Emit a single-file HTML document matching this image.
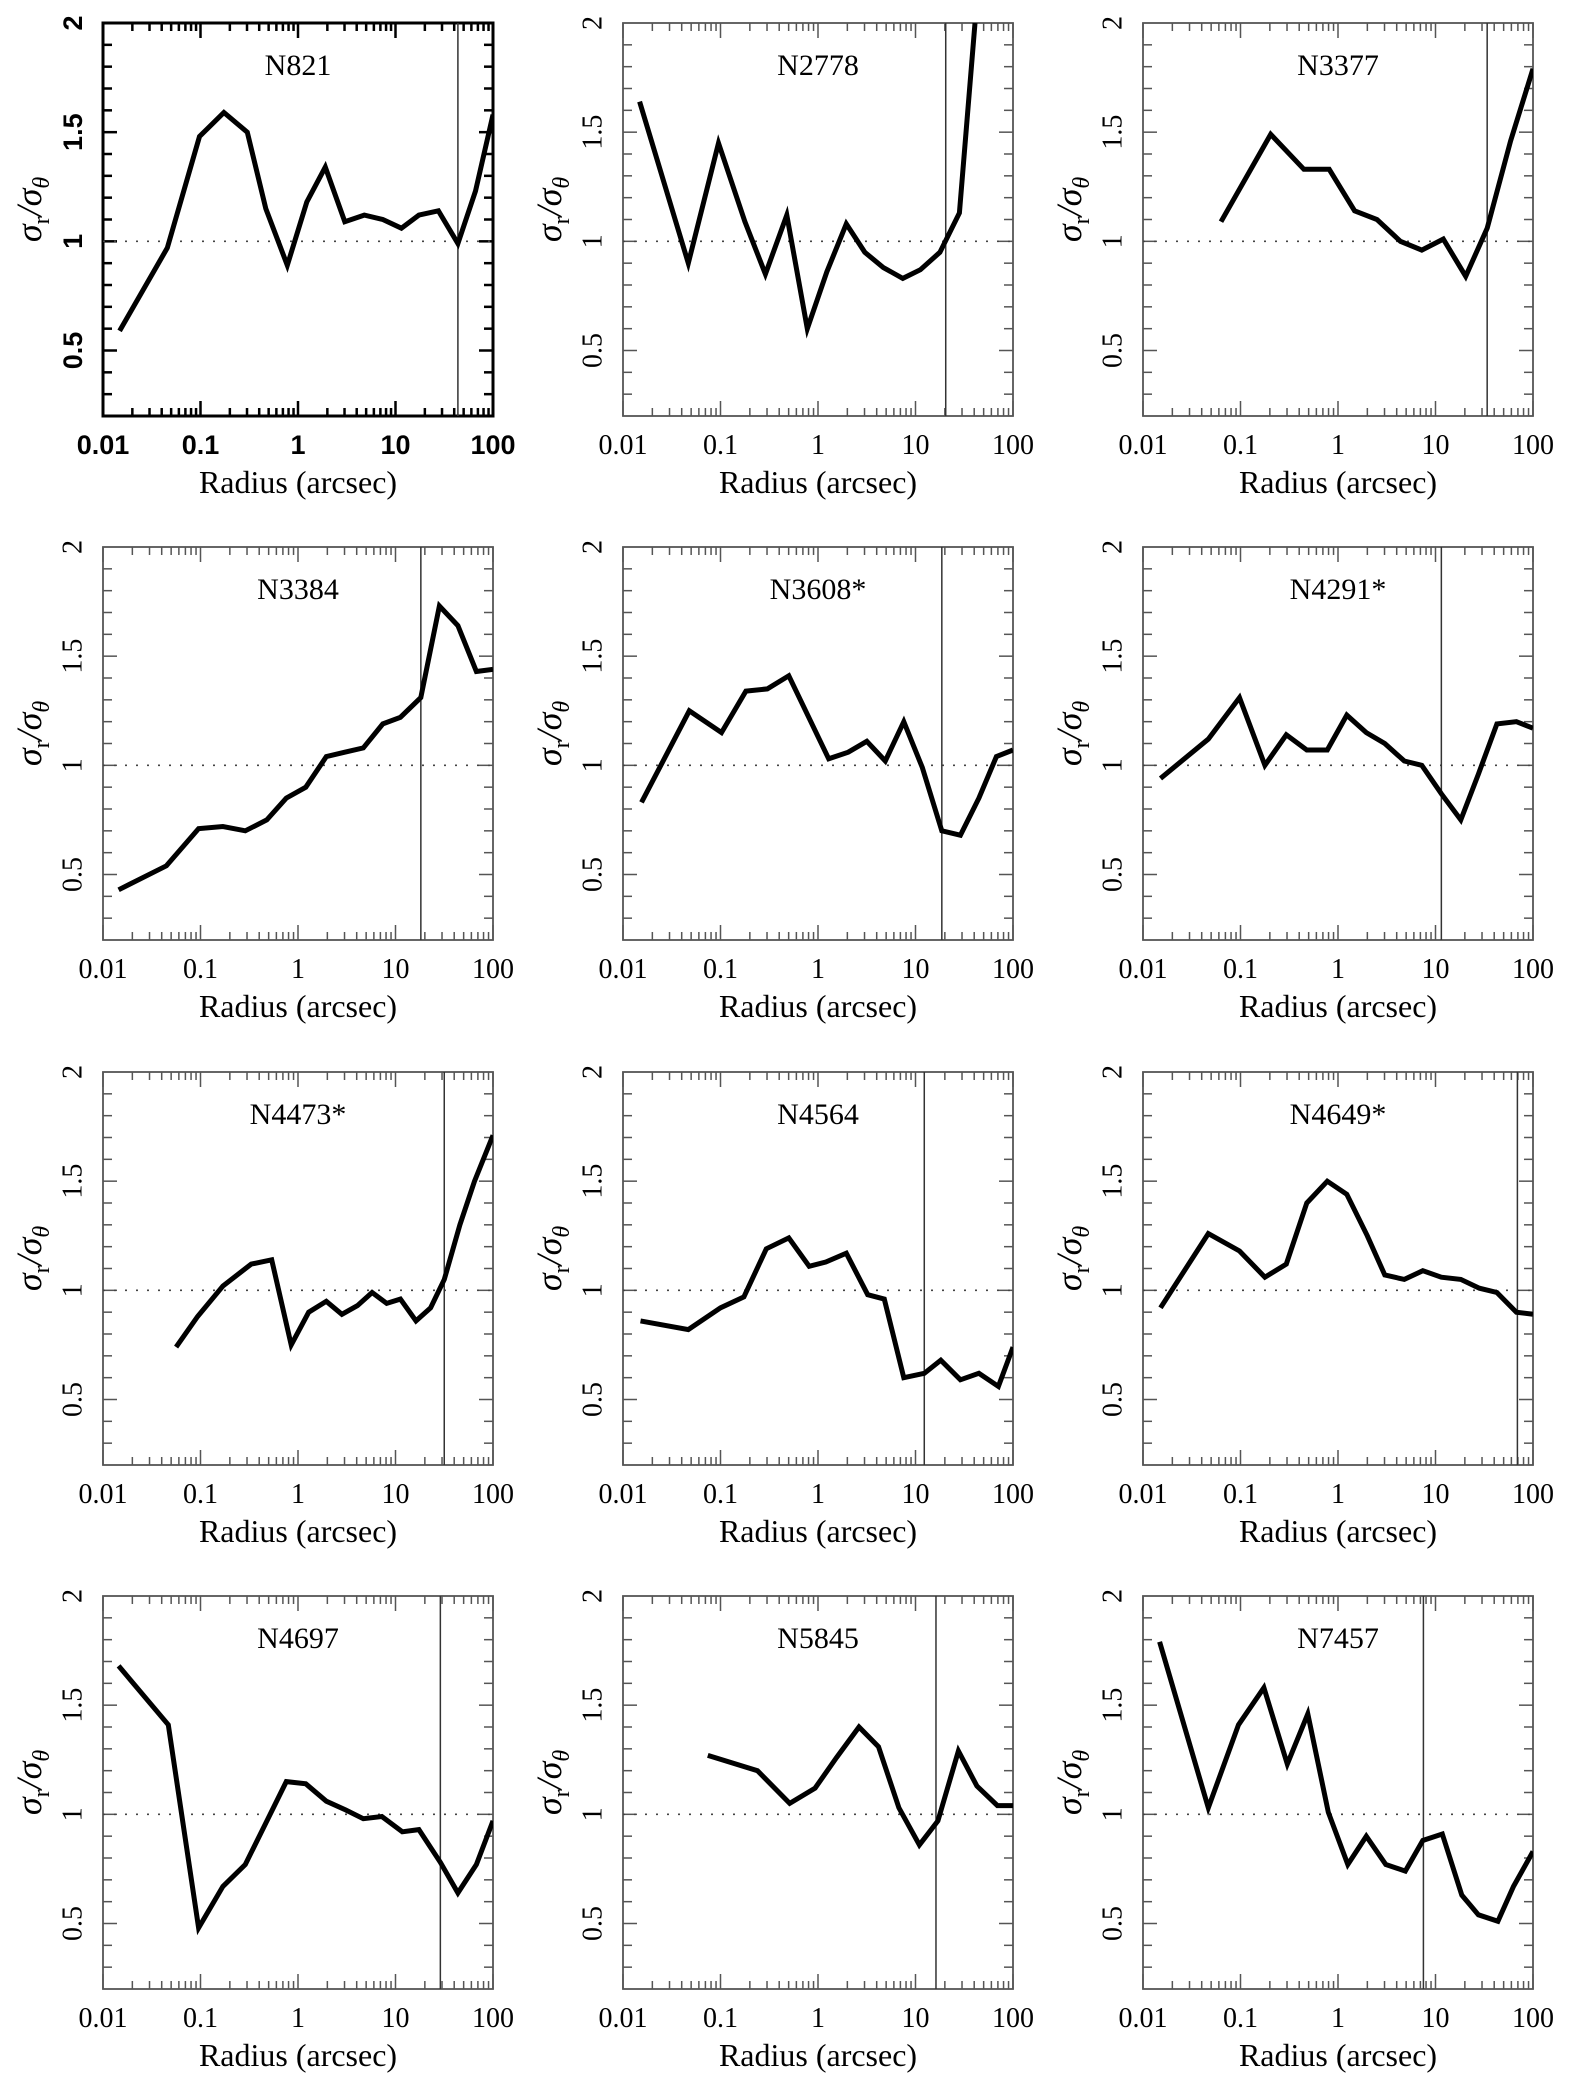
<!DOCTYPE html>
<html><head><meta charset="utf-8">
<style>
html,body{margin:0;padding:0;background:#fff;}
svg{display:block;}
</style></head>
<body>
<svg id="fig" width="1570" height="2081" viewBox="0 0 1570 2081" xmlns="http://www.w3.org/2000/svg"></svg>
<script>
const names = ["N821","N2778","N3377","N3384","N3608*","N4291*","N4473*","N4564","N4649*","N4697","N5845","N7457"];
const vlines = [1.64,1.31,1.53,1.26,1.27,1.06,1.50,1.09,1.84,1.46,1.21,0.876];
const xTicks = [-2,-1,0,1,2];
const xTickLabels = ["0.01","0.1","1","10","100"];
const yTicks = [0.5,1,1.5,2];
const yTickLabels = ["0.5","1","1.5","2"];
const logR_N821 = [-1.83,-1.34,-1.01,-0.76,-0.52,-0.33,-0.11,0.09,0.28,0.48,0.68,0.87,1.06,1.24,1.44,1.64,1.82,2.0];
const val_N821 = [0.59,0.97,1.48,1.59,1.50,1.15,0.89,1.18,1.34,1.09,1.12,1.10,1.06,1.12,1.14,0.99,1.23,1.58];
const logR_N2778 = [-1.83,-1.33,-1.02,-0.75,-0.54,-0.32,-0.11,0.09,0.29,0.48,0.67,0.87,1.05,1.25,1.45,1.61];
const val_N2778 = [1.64,0.90,1.45,1.09,0.85,1.12,0.60,0.86,1.08,0.95,0.88,0.83,0.87,0.95,1.13,2.0];
const logR_N3377 = [-1.20,-0.69,-0.35,-0.09,0.17,0.40,0.64,0.86,1.08,1.31,1.53,1.77,2.0];
const val_N3377 = [1.09,1.49,1.33,1.33,1.14,1.10,1.00,0.96,1.01,0.84,1.06,1.46,1.79];
const logR_N3384 = [-1.84,-1.35,-1.02,-0.77,-0.54,-0.32,-0.12,0.08,0.29,0.48,0.67,0.87,1.05,1.26,1.45,1.64,1.83,2.0];
const val_N3384 = [0.43,0.54,0.71,0.72,0.70,0.75,0.85,0.90,1.04,1.06,1.08,1.19,1.22,1.31,1.73,1.64,1.43,1.44];
const logR_N3608 = [-1.81,-1.32,-0.99,-0.74,-0.52,-0.30,0.11,0.31,0.50,0.69,0.88,1.07,1.27,1.46,1.65,1.83,2.0];
const val_N3608 = [0.83,1.25,1.15,1.34,1.35,1.41,1.03,1.06,1.11,1.02,1.20,0.99,0.70,0.68,0.85,1.04,1.07];
const logR_N4291 = [-1.82,-1.33,-1.01,-0.75,-0.53,-0.32,-0.11,0.09,0.29,0.48,0.68,0.86,1.06,1.26,1.44,1.63,1.83,2.0];
const val_N4291 = [0.94,1.12,1.31,1.00,1.14,1.07,1.07,1.23,1.15,1.10,1.02,1.00,0.87,0.75,0.96,1.19,1.20,1.17];
const logR_N4473 = [-1.25,-1.03,-0.77,-0.48,-0.27,-0.07,0.11,0.29,0.45,0.61,0.76,0.91,1.05,1.21,1.36,1.50,1.66,1.81,2.0];
const val_N4473 = [0.74,0.88,1.02,1.12,1.14,0.75,0.90,0.95,0.89,0.93,0.99,0.94,0.96,0.86,0.92,1.05,1.30,1.50,1.71];
const logR_N4564 = [-1.82,-1.33,-1.00,-0.76,-0.53,-0.30,-0.09,0.08,0.29,0.51,0.68,0.88,1.09,1.26,1.46,1.65,1.85,2.0];
const val_N4564 = [0.86,0.82,0.92,0.97,1.19,1.24,1.11,1.13,1.17,0.98,0.96,0.60,0.62,0.68,0.59,0.62,0.56,0.74];
const logR_N4649 = [-1.82,-1.33,-1.01,-0.75,-0.53,-0.32,-0.11,0.09,0.30,0.48,0.68,0.87,1.06,1.26,1.45,1.63,1.83,2.0];
const val_N4649 = [0.92,1.26,1.18,1.06,1.12,1.40,1.50,1.44,1.25,1.07,1.05,1.09,1.06,1.05,1.01,0.99,0.90,0.89];
const logR_N4697 = [-1.84,-1.33,-1.02,-0.77,-0.54,-0.33,-0.12,0.08,0.29,0.49,0.67,0.86,1.07,1.24,1.46,1.64,1.83,2.0];
const val_N4697 = [1.68,1.41,0.48,0.67,0.77,0.96,1.15,1.14,1.06,1.02,0.98,0.99,0.92,0.93,0.78,0.64,0.77,0.97];
const logR_N5845 = [-1.13,-0.62,-0.29,-0.03,0.19,0.42,0.62,0.83,1.04,1.23,1.44,1.63,1.84,2.0];
const val_N5845 = [1.27,1.20,1.05,1.12,1.26,1.40,1.31,1.03,0.86,0.97,1.29,1.13,1.04,1.04];
const logR_N7457 = [-1.83,-1.33,-1.02,-0.76,-0.52,-0.31,-0.10,0.10,0.29,0.49,0.69,0.87,1.07,1.27,1.44,1.64,1.80,2.0];
const val_N7457 = [1.79,1.03,1.41,1.58,1.23,1.46,1.01,0.77,0.90,0.77,0.74,0.88,0.91,0.63,0.54,0.51,0.67,0.83];
const allLogR = [logR_N821,logR_N2778,logR_N3377,logR_N3384,logR_N3608,logR_N4291,logR_N4473,logR_N4564,logR_N4649,logR_N4697,logR_N5845,logR_N7457];
const allVal = [val_N821,val_N2778,val_N3377,val_N3384,val_N3608,val_N4291,val_N4473,val_N4564,val_N4649,val_N4697,val_N5845,val_N7457];

const NS = "http://www.w3.org/2000/svg";
const svg = document.getElementById("fig");
const colX = [103,623,1143], rowY = [23,547,1072,1596];
const W = 390, H = 393, XMIN=-2, XMAX=2, YMIN=0.2, YMAX=2;
function mk(tag, attrs, parent){ const e=document.createElementNS(NS,tag); for(const k in attrs) e.setAttribute(k,attrs[k]); (parent||svg).appendChild(e); return e; }

const defs = mk("defs",{});
names.forEach((nm,i)=>{
  const L = colX[i%3], T = rowY[Math.floor(i/3)];
  const first = i===0;
  const sx = v => L + (v-XMIN)/(XMAX-XMIN)*W;
  const sy = v => T + (YMAX-v)/(YMAX-YMIN)*H;
  const frameColor = first ? "#000" : "#555";
  const font = first ? "'Liberation Sans', sans-serif" : "'Liberation Serif', serif";
  const g = mk("g",{});
  
  
  const cp = mk("clipPath",{id:"cp"+i},defs);
  mk("rect",{x:L,y:T,width:W,height:H},cp);
  for(let d=-2; d<=2; d++){
    for(let m=1;m<=9;m++){
      const lv = d+Math.log10(m); if(lv>2.0001) break;
      const x = sx(lv), len = m===1?15:8;
      mk("line",{x1:x,y1:T+H,x2:x,y2:T+H-len,stroke:frameColor,"stroke-width":first?2.5:1.5},g);
      mk("line",{x1:x,y1:T,x2:x,y2:T+len,stroke:frameColor,"stroke-width":first?2.5:1.5},g);
    }
  }
  for(let k=3;k<=19;k++){
    const v=k/10, y=sy(v), len = (k%5===0)?14:9;
    mk("line",{x1:L,y1:y,x2:L+len,y2:y,stroke:frameColor,"stroke-width":first?2.5:1.5},g);
    mk("line",{x1:L+W,y1:y,x2:L+W-len,y2:y,stroke:frameColor,"stroke-width":first?2.5:1.5},g);
  }
  const frame = mk("rect",{x:L,y:T,width:W,height:H,fill:"none",stroke:frameColor,"stroke-width":first?3:1.8},g);
  
  
  const ref = mk("line",{x1:L,y1:sy(1),x2:L+W,y2:sy(1),stroke:"#444","stroke-width":1.6,"stroke-dasharray":"2,9"},g);
  
  
  const vl = mk("line",{x1:sx(vlines[i]),y1:T,x2:sx(vlines[i]),y2:T+H,stroke:"#333","stroke-width":1.5},g);
  
  
  const pts = allLogR[i].map((lr,j)=>sx(lr).toFixed(1)+","+sy(allVal[i][j]).toFixed(1)).join(" ");
  const pl = mk("polyline",{points:pts,fill:"none",stroke:"#000","stroke-width":5,"stroke-linejoin":"miter","clip-path":"url(#cp"+i+")"},g);
  
  
  const t = mk("text",{x:L+W/2,y:T+52,"text-anchor":"middle","font-family":"'Liberation Serif', serif","font-size":30,fill:"#000"},g);
  t.textContent = nm;
  
  
  xTicks.forEach((xv,k)=>{
    const tl = mk("text",{x:sx(xv),y:T+H+38,"text-anchor":"middle","font-family":font,"font-size":first?27:28,"font-weight":first?"bold":"normal",fill:"#000"},g);
    tl.textContent = xTickLabels[k];
    
    
  });
  yTicks.forEach((yv,k)=>{
    const x = L-28, y = sy(yv);
    const tl = mk("text",{x:x,y:y,transform:`rotate(-90 ${x} ${y})`,"text-anchor":"middle","dominant-baseline":"middle","font-family":font,"font-size":first?27:28,"font-weight":first?"bold":"normal",fill:"#000"},g);
    tl.textContent = yTickLabels[k];
    
    
  });
  const xt = mk("text",{x:L+W/2,y:T+H+77,"text-anchor":"middle","font-family":"'Liberation Serif', serif","font-size":32,fill:"#000"},g);
  xt.textContent = "Radius (arcsec)";
  
  
  const yx = L-62, yy = T+H/2-10;
  const yt = mk("text",{x:yx,y:yy,transform:`rotate(-90 ${yx} ${yy})`,"text-anchor":"middle","font-family":"'Liberation Serif', 'DejaVu Serif', serif","font-size":36,"font-style":"italic",fill:"#000"},g);
  
  
  const s1 = mk("tspan",{},yt); s1.textContent="σ";
  const s2 = mk("tspan",{"font-size":24,dy:8,"font-style":"normal"},yt); s2.textContent="r";
  const s3 = mk("tspan",{dy:-8},yt); s3.textContent="/σ";
  const s4 = mk("tspan",{"font-size":24,dy:8},yt); s4.textContent="θ";
});
</script>
</body></html>
